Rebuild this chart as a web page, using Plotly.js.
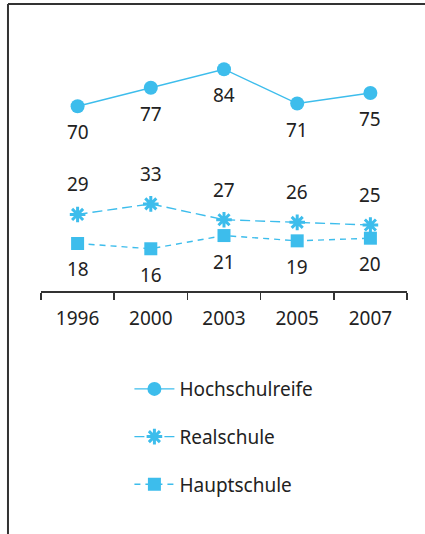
<!DOCTYPE html>
<html><head><meta charset="utf-8">
<script src="https://cdn.plot.ly/plotly-3.0.1.min.js"></script>
<style>html,body{margin:0;padding:0;background:#fff}#chart{width:425px;height:534px}</style>
</head><body><div id="chart"></div>
<script>
const years = ['1996','2000','2003','2005','2007'];
const hochschulreife = [70, 77, 84, 71, 75];
const realschule = [29, 33, 27, 26, 25];
const hauptschule = [18, 16, 21, 19, 20];
const seriesNames = ['Hochschulreife', 'Realschule', 'Hauptschule'];

const blue = '#3dbdec';
const txt = '#222222';
const font = 'Noto Sans, Open Sans, sans-serif';
const fs = 19;

const traces = [
  {x: years, y: hochschulreife, name: seriesNames[0], type: 'scatter', mode: 'lines+markers',
   line: {color: blue, width: 1.4}, marker: {symbol: 'circle', size: 14, color: blue},
   legendgroup: 'a'},
  {x: years, y: realschule, name: seriesNames[1], type: 'scatter', mode: 'lines+markers',
   line: {color: blue, width: 1.4, dash: '10px,5px'},
   marker: {symbol: 'asterisk-open', size: 13, color: blue, line: {color: blue, width: 3}},
   legendgroup: 'b'},
  {x: years, y: hauptschule, name: seriesNames[2], type: 'scatter', mode: 'lines+markers',
   line: {color: blue, width: 1.4, dash: '6px,5px'},
   marker: {symbol: 'square', size: 13, color: blue},
   legendgroup: 'c'}
];

const annotations = [];
function addLabels(vals, shift) {
  vals.forEach((v, i) => annotations.push({xref: 'x', yref: 'y', x: i, y: v, text: String(v), showarrow: false,
    yshift: shift, font: {family: font, size: fs, color: txt}}));
}
addLabels(hochschulreife, -26);
addLabels(realschule, 30);
addLabels(hauptschule, -26);

const frame = {color: '#333333', width: 2};
const layout = {
  width: 425, height: 534,
  margin: {l: 41, r: 18, t: 27, b: 243, autoexpand: false},
  paper_bgcolor: '#fff', plot_bgcolor: '#fff',
  showlegend: true,
  legend: {xref: 'container', yref: 'container', x: 0.3045, y: 0.307, xanchor: 'left', yanchor: 'top',
    font: {family: font, size: fs, color: txt}, traceorder: 'grouped', tracegroupgap: 20,
    itemwidth: 40, bgcolor: 'rgba(0,0,0,0)'},
  xaxis: {type: 'category', range: [-0.5, 4.5], showline: true, linecolor: '#333', linewidth: 1.5,
    ticks: 'outside', tickson: 'boundaries', ticklen: 7, tickcolor: '#333', tickwidth: 1.5,
    showgrid: false, zeroline: false, ticklabelstandoff: 10, tickangle: 0, automargin: false,
    tickfont: {family: font, size: fs, color: txt}, fixedrange: true},
  yaxis: {range: [0, 100], visible: false, fixedrange: true, automargin: false},
  annotations: annotations,
  shapes: [
    {type: 'line', xref: 'paper', yref: 'paper', x0: -0.0902, x1: 1.06, y0: 1.0871, y1: 1.0871, line: frame},
    {type: 'line', xref: 'paper', yref: 'paper', x0: -0.0902, x1: -0.0902, y0: 1.0871, y1: -0.93, line: frame}
  ]
};
Plotly.newPlot('chart', traces, layout, {displayModeBar: false, staticPlot: true});
</script></body></html>
